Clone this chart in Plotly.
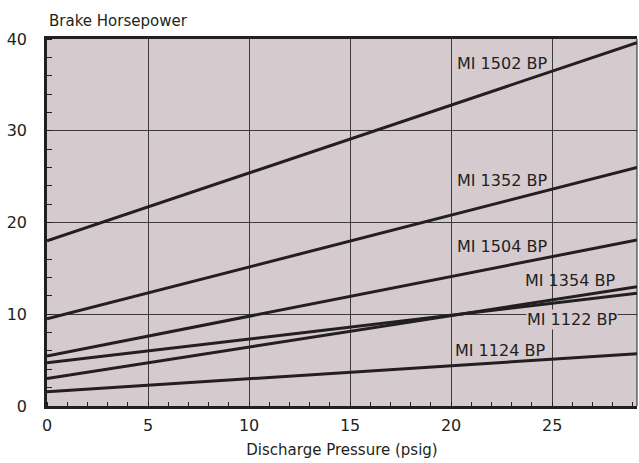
import plotly.graph_objects as go

# Data
pressure = [0, 29.2]  # Discharge Pressure (psig)
series_names = ["MI 1502 BP", "MI 1352 BP", "MI 1504 BP", "MI 1354 BP", "MI 1122 BP", "MI 1124 BP"]
mi1502 = [18.0, 39.6]
mi1352 = [9.5, 26.0]
mi1504 = [5.45, 18.1]
mi1354 = [3.0, 13.0]
mi1122 = [4.7, 12.3]
mi1124 = [1.55, 5.7]
series_values = [mi1502, mi1352, mi1504, mi1354, mi1122, mi1124]

# label anchor points (data coords)
label_x = [22.5, 22.5, 22.5, 25.9, 26.0, 22.4]
label_y = [37.3, 24.6, 17.4, 13.7, 9.4, 6.1]
label_box = [False, False, False, False, True, False]

x_ticks = [0, 5, 10, 15, 20, 25]
y_ticks = [0, 10, 20, 30, 40]

INK = "#231f20"
BG = "#d5cbce"
FONT = "DejaVu Sans"

fig = go.Figure()
for name, vals in zip(series_names, series_values):
    fig.add_trace(go.Scatter(x=pressure, y=vals, mode="lines", name=name,
                             line=dict(color=INK, width=3), showlegend=False,
                             hoverinfo="skip"))

for name, lx, ly, box in zip(series_names, label_x, label_y, label_box):
    fig.add_annotation(x=lx, y=ly, xref="x", yref="y", text=name, showarrow=False,
                       xanchor="center", yanchor="middle",
                       font=dict(family=FONT, size=16, color=INK),
                       bgcolor=BG if box else "rgba(0,0,0,0)", borderpad=0)

fig.add_annotation(x=0, y=1.05, xref="paper", yref="paper", text="Brake Horsepower",
                   showarrow=False, xanchor="left", yanchor="middle",
                   font=dict(family=FONT, size=15, color=INK))

# thin right border
fig.add_shape(type="line", xref="paper", yref="paper", x0=1, x1=1, y0=0, y1=1,
              line=dict(color=INK, width=1))

fig.update_layout(
    width=639, height=463, autosize=False,
    margin=dict(l=47, r=2, t=39, b=57),
    paper_bgcolor="white", plot_bgcolor=BG,
    font=dict(family=FONT, size=16, color=INK),
)
fig.update_xaxes(
    range=[0, 29.2], tickvals=x_ticks, ticks="", showgrid=True, automargin=False,
    gridcolor="#3d3839", gridwidth=1, zeroline=False,
    showline=True, linecolor=INK, linewidth=2.5, mirror=True,
    minor=dict(ticks="inside", dtick=1, tick0=0, ticklen=4, tickcolor=INK, showgrid=False),
    ticklabelstandoff=3,
    title=dict(text="Discharge Pressure (psig)", font=dict(family=FONT, size=15, color=INK), standoff=11),
    tickfont=dict(family=FONT, size=16, color=INK),
)
fig.update_yaxes(
    range=[0, 40], tickvals=y_ticks, ticks="", showgrid=True, automargin=False,
    gridcolor="#3d3839", gridwidth=1, zeroline=False,
    showline=True, linecolor=INK, linewidth=2.5,
    minor=dict(ticks="inside", dtick=2, tick0=0, ticklen=5, tickcolor=INK, showgrid=False),
    ticklabelstandoff=14,
    tickfont=dict(family=FONT, size=16, color=INK),
)

post = ("document.body.style.margin='0px';"
        "document.body.style.overflow='hidden';"
        "var gd=document.getElementById('{plot_id}');"
        "Plotly.relayout(gd,{width:639,height:463});")

fig.write_html("out.html", config={"responsive": False, "displayModeBar": False},
               post_script=post)
